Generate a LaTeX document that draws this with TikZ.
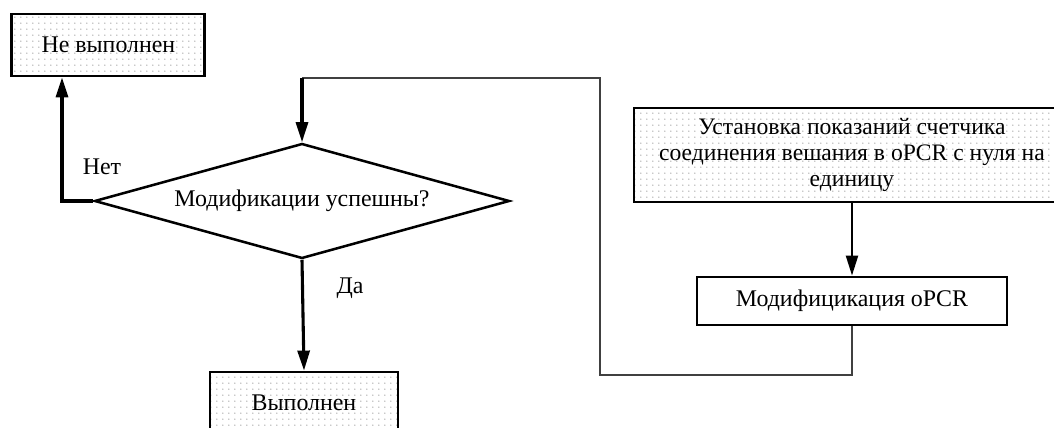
\documentclass[tikz,border=0pt]{standalone}
\usepackage{fontspec}
\setmainfont{Liberation Serif}
\usetikzlibrary{shapes.geometric,arrows.meta,positioning,patterns.meta}

\tikzdeclarepattern{
  name=sparsedots, type=uncolored,
  bounding box={(0,0) and (4.5pt,4.5pt)},
  tile size={(4.5pt,4.5pt)},
  code={\fill (2.25pt,2.25pt) circle (0.55pt);}
}

\begin{document}
\begin{tikzpicture}[
    font=\fontsize{17}{19.5}\selectfont,
    dotbox/.style={draw, line width=2pt, preaction={fill=white}, pattern=sparsedots, pattern color=gray!85, align=center, inner sep=2pt},
    plainbox/.style={draw, line width=2pt, fill=white, align=center},
    decision/.style={draw, diamond, aspect=3.6, line width=1.8pt, inner sep=0pt},
    arr/.style={line width=2.2pt, -{Triangle[length=0.5cm,width=0.3cm]}},
    backline/.style={line width=1.4pt, draw=black!75}
]
    \useasboundingbox (0,0) rectangle (26.35,10.675);
    \node[dotbox, minimum width=4.825cm, minimum height=1.55cm] (fail) at (2.71,9.55) {Не выполнен};
    \node[decision, minimum width=10.375cm, minimum height=2.875cm] (cond) at (7.55,5.65) {Модификации успешны?};
    \node[dotbox, minimum width=4.7cm, minimum height=1.55cm] (done) at (7.6,0.6) {Выполнен};
    \node[dotbox, minimum width=10.9cm, minimum height=2.35cm, font=\fontsize{16.8}{18.3}\selectfont] (setcnt) at (21.3,6.8)
        {Установка показаний счетчика\\соединения вешания в oPCR с нуля на\\единицу};
    \node[plainbox, minimum width=7.75cm, minimum height=1.2cm] (mod) at (21.3,3.15) {Модифицикация oPCR};
    % connectors
    \coordinate (nocorner) at (1.55,5.65);
    \coordinate (loopA) at (15,1.3);
    \coordinate (loopB) at (15,8.725);
    \draw[arr] (cond.west) -- (nocorner) -- (nocorner |- fail.south);
    \draw[arr] (cond.south) -- (done.north);
    \draw[arr, line width=1.6pt] (setcnt.south) -- (mod.north);
    \draw[backline] (mod.south) |- (loopA) -- (loopB) -- (loopB -| cond.north);
    \draw[arr] (loopB -| cond.north) -- (cond.north);
    \node at (2.55,6.5) {Нет};
    \node at (8.75,3.475) {Да};
\end{tikzpicture}
\end{document}
